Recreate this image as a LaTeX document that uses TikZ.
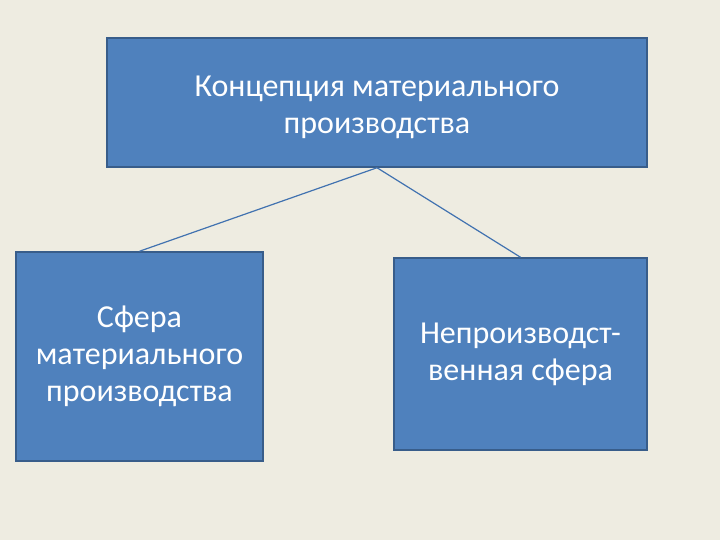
\documentclass[tikz,border=0pt]{standalone}
\usepackage{fontspec}
\setmainfont{Carlito}
\definecolor{bg}{HTML}{EEECE1}
\definecolor{boxfill}{HTML}{4F81BD}
\definecolor{boxline}{HTML}{385D8A}
\definecolor{conn}{HTML}{4172B0}
\begin{document}
\begin{tikzpicture}[x=1pt,y=1pt,
  blockbox/.style={draw=boxline, line width=1.5pt, fill=boxfill, text=white,
    align=center, inner sep=0pt,
    font=\fontsize{32}{37}\selectfont},
  link/.style={draw=conn, line width=1.2pt}]
\fill[bg] (0,0) rectangle (720,540);
\useasboundingbox (0,0) rectangle (720,540);
\node[blockbox, minimum width=540pt, minimum height=129pt] (top) at (377,437.5) {};
\node[text=white, align=center, font=\fontsize{32}{37}\selectfont, inner sep=0pt]
  (toptext) at (377,433) {Концепция материального\\производства};
\node[blockbox, minimum width=247pt, minimum height=209pt] (left) at (139.5,183.5)
  {Сфера\\материального\\производства};
\node[blockbox, minimum width=253pt, minimum height=192pt] (right) at (520.5,186)
  {Непроизводст-\\венная сфера};
\draw[link] (top.south) -- (left.north);
\draw[link] (top.south) -- (right.north);
\end{tikzpicture}
\end{document}
